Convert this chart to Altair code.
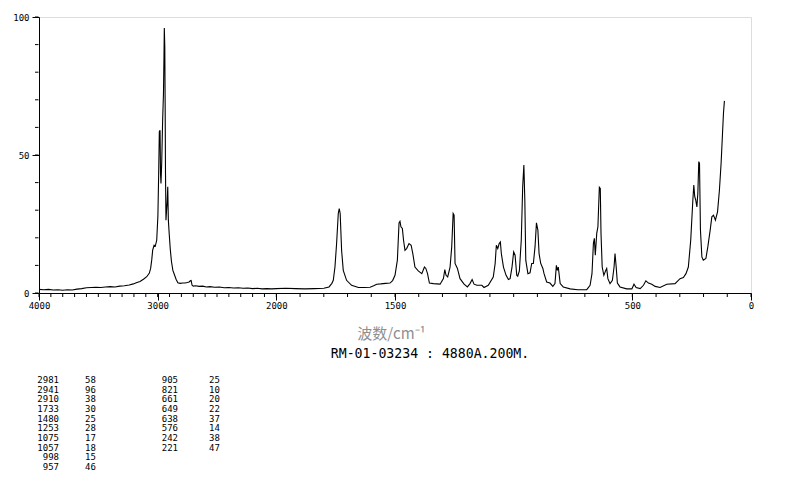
import altair as alt
import pandas as pd

# ---- spectrum (wavenumber cm-1, relative intensity) ----
wavenumber = [
    4000, 3960, 3920, 3880, 3840, 3800, 3760, 3720, 3680, 3640, 3600, 3560, 3520, 3480,
    3440, 3400, 3360, 3320, 3280, 3240, 3205, 3180, 3149, 3120, 3092, 3070, 3059, 3050,
    3042, 3030, 3020, 3008, 2998, 2992, 2986, 2980, 2976, 2972, 2966, 2958, 2951, 2947,
    2944, 2940, 2937, 2934, 2930, 2925, 2920, 2915, 2910, 2902, 2894, 2884, 2872, 2860,
    2845, 2830, 2810, 2790, 2770, 2750, 2735, 2725, 2718, 2710, 2700, 2680, 2650, 2620,
    2590, 2560, 2520, 2480, 2440, 2400, 2360, 2320, 2280, 2240, 2200, 2160, 2120, 2080,
    2040,
    2000, 1960, 1920, 1880, 1840, 1800, 1778, 1766, 1760, 1753, 1746, 1739, 1735, 1731,
    1725, 1718, 1704, 1683, 1654, 1630, 1605, 1590, 1577, 1560, 1540, 1521, 1510, 1500,
    1490, 1483, 1479, 1475, 1469, 1464, 1458, 1451, 1441, 1432, 1425, 1416, 1402, 1387,
    1376, 1370, 1363, 1355, 1338, 1310, 1296, 1290, 1285, 1278, 1268, 1261, 1255, 1251,
    1247, 1237, 1226, 1209, 1195, 1184, 1175, 1167, 1155, 1134, 1125, 1107, 1086, 1078,
    1073, 1067, 1061, 1056, 1052, 1043, 1032, 1022, 1015, 1007, 1000, 994, 987, 983,
    976, 968, 962, 957, 953, 949, 940, 931, 924, 917, 910, 904, 898, 893, 886, 877, 872,
    861, 847, 835, 826, 820, 816, 812, 804, 791, 762, 730, 692, 678, 670, 664, 660, 656,
    650, 645, 639, 635, 632, 627, 620, 612, 608, 603, 594, 584, 577, 573, 568, 563, 552,
    524, 502, 493, 484, 467, 453, 443, 432, 418, 404, 383, 355, 320, 299, 285, 274, 264,
    254, 245, 241, 237, 233, 228, 224, 220, 217, 213, 207, 201, 190, 182, 172, 165, 158,
    150, 141, 133, 126, 120, 116, 112,
]
intensity = [
    1.3, 1.2, 1.3, 1.1, 1.2, 1.0, 1.2, 1.1, 1.4, 1.6, 1.9, 2.0, 2.1, 2.0,
    2.2, 2.3, 2.2, 2.5, 2.6, 2.9, 3.3, 3.7, 4.2, 5.0, 5.9, 7.2, 9.0, 12.0,
    15.5, 17.3, 17.0, 19.1, 28.0, 42.0, 58.5, 59.0, 43.0, 39.7, 47.0, 62.7, 72.4, 85.0,
    96.0, 89.3, 68.8, 43.4, 26.4, 30.0, 33.0, 38.5, 26.4, 21.0, 16.0, 11.5, 8.2, 6.8,
    5.0, 3.7, 3.5, 3.6, 3.6, 3.8, 4.0, 4.4, 4.5, 2.8, 2.5, 2.6, 2.4, 2.5,
    2.2, 2.3, 2.1, 2.2, 1.9, 2.0, 1.8, 1.9, 1.7, 1.8, 1.6, 1.7, 1.5, 1.6,
    1.5,
    1.6, 1.7, 1.6, 1.5, 1.6, 1.7, 2.2, 3.5, 4.6, 9.4, 18.0, 28.8, 30.6, 28.8,
    15.5, 8.2, 4.6, 2.8, 2.0, 2.0, 2.1, 2.6, 3.2, 3.3, 3.5, 3.6, 4.5, 6.4,
    11.9, 25.4, 26.0, 24.0, 23.4, 19.1, 15.5, 16.1, 17.9, 17.3, 14.3, 9.4, 8.0, 7.0,
    9.4, 8.9, 7.0, 3.6, 3.4, 3.2, 5.2, 8.5, 6.4, 5.8, 9.4, 16.7, 28.8, 28.2,
    10.7, 8.9, 5.2, 3.2, 2.2, 3.4, 4.9, 3.2, 2.8, 2.8, 2.0, 2.8, 5.8, 10.7,
    17.3, 16.1, 17.9, 18.5, 14.3, 9.4, 6.4, 4.9, 5.2, 9.4, 14.9, 13.7, 6.4, 6.1,
    8.0, 19.1, 38.5, 46.4, 33.7, 11.9, 7.0, 7.3, 10.7, 10.7, 16.7, 25.4, 22.8, 14.3, 10.7, 8.9, 7.0,
    4.0, 3.6, 2.4, 3.4, 10.0, 8.2, 9.4, 3.4, 2.2, 1.5, 1.2, 1.2, 2.8, 7.0, 18.0, 19.8, 13.7,
    21.6, 24.0, 38.3, 37.9, 21.6, 9.4, 6.4, 8.2, 8.9, 5.2, 3.4, 4.6, 9.4, 14.3, 9.4, 3.6, 2.2,
    1.5, 1.5, 3.2, 2.0, 1.6, 2.8, 4.4, 3.6, 3.2, 2.4, 2.0, 3.2, 3.4, 5.2, 5.6, 7.0, 9.4,
    19.1, 33.7, 39.1, 34.9, 33.7, 31.2, 36.1, 47.6, 47.0, 22.8, 13.1, 11.9, 12.5, 16.7, 22.8, 27.6, 28.2,
    26.4, 29.4, 37.3, 47.0, 57.9, 65.1, 69.6,
]

# ---- peak table ----
peak_wn_left = ["2981", "2941", "2910", "1733", "1480", "1253", "1075", "1057", "998", "957"]
peak_int_left = ["58", "96", "38", "30", "25", "28", "17", "18", "15", "46"]
peak_wn_right = ["905", "821", "661", "649", "638", "576", "242", "221"]
peak_int_right = ["25", "10", "20", "22", "37", "14", "38", "47"]

x_major = [4000, 3000, 2000, 1500, 500, 0]
x_minor = list(range(0, 4001, 100))
y_major = [0, 50, 100]
y_minor = list(range(0, 101, 10))

x_title = "波数/cm⁻¹"
caption = "RM-01-03234 : 4880A.200M."

W, H = 712, 276
MONO = "DejaVu Sans Mono"

spec = pd.DataFrame({"wn": wavenumber, "I": intensity})

xs = alt.Scale(domain=[4000, 2000, 0], range=[0, W / 3, W], zero=False, nice=False)
ys = alt.Scale(domain=[0, 100], zero=False, nice=False)

main = alt.Chart(spec).mark_line(color="black", strokeWidth=1.1).encode(
    x=alt.X("wn:Q", scale=xs, axis=alt.Axis(
        values=x_major, format="d", orient="bottom", tickSize=7, labelPadding=1,
        labelFont=MONO, labelFontSize=9, labelColor="black", labelFlush=False,
        labelOverlap=False, grid=False, domainColor="black", tickColor="black",
        title=x_title, titleFont="Noto Sans CJK SC", titleFontSize=15,
        titleFontWeight="normal", titleColor="#8f8f8f", titleX=352, titleY=40,
        titleBaseline="middle")),
    y=alt.Y("I:Q", scale=ys, axis=alt.Axis(
        values=y_major, format="d", orient="left", tickSize=7, labelPadding=3,
        labelFont=MONO, labelFontSize=9, labelColor="black", labelFlush=False,
        labelOverlap=False, grid=False, domainColor="black", tickColor="black",
        title=None)),
    order=alt.Order("idx:Q"),
).transform_window(idx="row_number()")

# minor ticks, positioned through the same scales
minor_x = alt.Chart(pd.DataFrame({"v": x_minor})).mark_rule(
    color="black", strokeWidth=1
).encode(
    x=alt.X("v:Q", scale=xs, axis=None),
    y=alt.value(H + 0.5), y2=alt.value(H + 4),
)
minor_y = alt.Chart(pd.DataFrame({"v": y_minor})).mark_rule(
    color="black", strokeWidth=1
).encode(
    y=alt.Y("v:Q", scale=ys, axis=None),
    x=alt.value(-4), x2=alt.value(-0.5),
)

rows = []
for i, (w, v) in enumerate(zip(peak_wn_left, peak_int_left)):
    rows.append({"grp": 0, "row": i, "wn": w, "val": v})
for i, (w, v) in enumerate(zip(peak_wn_right, peak_int_right)):
    rows.append({"grp": 1, "row": i, "wn": w, "val": v})
table = pd.DataFrame(rows)

row_scale = alt.Scale(domain=[0, 9], range=[363, 450], nice=False, zero=False)

tbl_wn = alt.Chart(table).mark_text(
    font=MONO, fontSize=9, align="right", baseline="middle", color="black"
).encode(
    x=alt.X("grp:Q", scale=alt.Scale(domain=[0, 1], range=[20, 139], nice=False, zero=False), axis=None),
    y=alt.Y("row:Q", scale=row_scale, axis=None),
    text="wn:N",
)
tbl_val = alt.Chart(table).mark_text(
    font=MONO, fontSize=9, align="left", baseline="middle", color="black"
).encode(
    x=alt.X("grp:Q", scale=alt.Scale(domain=[0, 1], range=[46, 170], nice=False, zero=False), axis=None),
    y=alt.Y("row:Q", scale=row_scale, axis=None),
    text="val:N",
)

cap = alt.Chart(pd.DataFrame({"t": [caption]})).mark_text(
    font=MONO, fontSize=13.2, align="center", baseline="middle", color="black"
).encode(x=alt.value(391), y=alt.value(337), text="t:N")

chart = alt.layer(main, minor_x, minor_y, tbl_wn, tbl_val, cap).resolve_scale(
    x="independent", y="independent"
).resolve_axis(x="independent", y="independent").properties(
    width=W, height=H,
    autosize=alt.AutoSizeParams(type="none"),
    padding={"left": 31, "top": 9, "right": 35, "bottom": 180},
).configure_view(stroke="black", strokeWidth=1).configure(background="white")

chart.save("out.html", embed_options={"renderer": "svg", "actions": False})
